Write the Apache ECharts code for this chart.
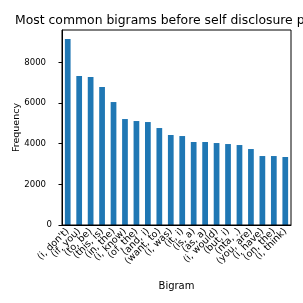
<!DOCTYPE html>
<html><head><meta charset="utf-8">
<script src="https://cdn.jsdelivr.net/npm/echarts@6/dist/echarts.min.js"></script>
<style>html,body{margin:0;padding:0;background:#fff}#c{width:303px;height:303px}</style>
</head><body><div id="c"></div>
<script>
const categories = ["(i, don't)","(if, you)","(to, be)","(this, is)","(in, the)","(i, know)","(of, the)","(and, i)","(want, to)","(i, was)","(it, i)","(is, a)","(as, a)","(i, would)","(but, i)","(nta, .)","(you, are)","(i, have)","(on, the)","(i, think)"];
const frequency = [9145,7325,7276,6785,6047,5211,5113,5064,4769,4425,4375,4081,4081,4031,3982,3933,3736,3392,3392,3343];
const yTicks = [0,2000,4000,6000,8000];
const font = 'DejaVu Sans';
const narrow = '"Liberation Sans Narrow", "DejaVu Sans Condensed", "DejaVu Sans"';
const chart = echarts.init(document.getElementById('c'), null, {renderer:'canvas'});
chart.setOption({
  animation:false,
  title:{text:'Most common bigrams before self disclosure phrases', left:10, top:10,
    textStyle:{fontFamily:font,fontSize:12.4,fontWeight:'normal',color:'#000'}},
  grid:{left:62,right:12,top:30,bottom:78,containLabel:false,outerBoundsMode:'none'},
  xAxis:{type:'category',data:categories,name:'Bigram',nameLocation:'middle',nameGap:56,nameMoveOverlap:false,
    nameTextStyle:{fontFamily:font,fontSize:10,color:'#000'},
    axisLine:{lineStyle:{color:'#000',width:1}},
    axisTick:{alignWithLabel:true,length:3.5,lineStyle:{color:'#000'}},
    axisLabel:{rotate:45,interval:0,fontFamily:font,fontSize:9.5,color:'#000',margin:5},
    splitLine:{show:false}},
  yAxis:{type:'value',min:0,max:9590,interval:2000,name:'Frequency',nameLocation:'middle',nameGap:40,nameMoveOverlap:false,
    nameTextStyle:{fontFamily:font,fontSize:9.5,color:'#000'},
    axisLine:{show:true,lineStyle:{color:'#000',width:1}},
    axisTick:{show:true,length:3.5,lineStyle:{color:'#000'}},
    axisLabel:{fontFamily:narrow,fontSize:9.5,color:'#000',margin:10,showMaxLabel:false,
      formatter:v=>yTicks.includes(v)?(v===0?'{z|0}':'{a|'+v+'}'):'',
      rich:{a:{fontFamily:narrow,fontSize:9.5,color:'#000',padding:[0,6,0,0]},z:{fontFamily:narrow,fontSize:9.5,color:'#000'}}},
    splitLine:{show:false}},
  series:[{type:'bar',data:frequency,barWidth:'50%',itemStyle:{color:'#1f77b4'}}]
});
const g = chart.getModel().getComponent('grid').coordinateSystem.getRect();
chart.setOption({graphic:[{type:'rect',shape:{x:g.x,y:g.y,width:g.width,height:g.height},
  style:{fill:'none',stroke:'#000',lineWidth:1},silent:true,z:10}]});
</script></body></html>
